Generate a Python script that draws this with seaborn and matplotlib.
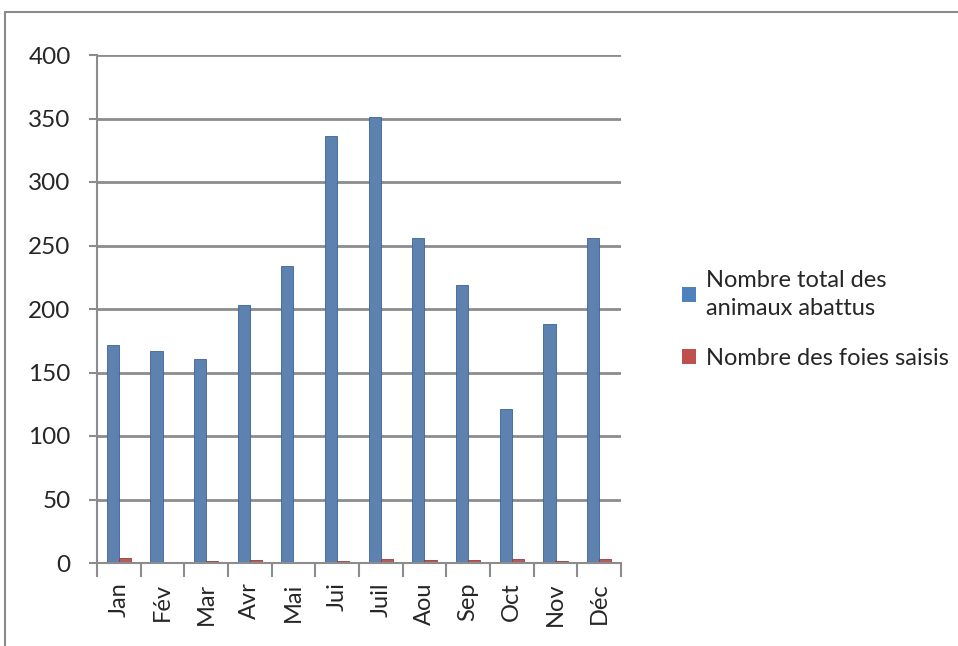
import matplotlib
matplotlib.use('Agg')
import matplotlib.pyplot as plt
import matplotlib.patches as mpatches
import numpy as np
import pandas as pd
import seaborn as sns

months = ['Jan', 'Fév', 'Mar', 'Avr', 'Mai', 'Jui', 'Juil', 'Aou', 'Sep', 'Oct', 'Nov', 'Déc']
abattus = [172, 167, 161, 203, 234, 336, 351, 256, 219, 121, 188, 256]
foies = [4, 1, 1.5, 2, 0.5, 1.5, 3, 2.5, 2.5, 3, 1.5, 3]
series = ['Nombre total des\nanimaux abattus', 'Nombre des foies saisis']
colors = ['#4F81BD', '#C0504D']

df = pd.DataFrame({
    'mois': months * 2,
    'valeur': abattus + foies,
    'serie': [series[0]] * len(months) + [series[1]] * len(months),
})

sns.set_style('white')
plt.rcParams['font.family'] = ['Lato', 'DejaVu Sans']

fig = plt.figure(figsize=(9.58, 6.46), dpi=100)
ax = fig.add_axes([97 / 958, 1 - 563 / 646, 524 / 958, 508 / 646])

sns.barplot(data=df, x='mois', y='valeur', hue='serie', palette=colors,
            width=0.55, dodge=True, ax=ax, legend=True,
            edgecolor='#3a6496', linewidth=0.6)
# red bars get their own edge colour
for p in ax.patches[len(months):2 * len(months)]:
    p.set_edgecolor('#9b3a37')

ax.set_xlim(-0.5, len(months) - 0.5)
ax.set_ylim(0, 400)
ax.set_yticks(np.arange(0, 401, 50))
ax.yaxis.grid(True, color='#8c8c8c', linewidth=2)
ax.set_axisbelow(True)
ax.set_xlabel('')
ax.set_ylabel('')

for side in ['top', 'right']:
    ax.spines[side].set_visible(False)
for side in ['left', 'bottom']:
    ax.spines[side].set_color('#8c8c8c')
    ax.spines[side].set_linewidth(1.5)

ax.tick_params(axis='y', labelsize=17.5, length=6, color='#8c8c8c', width=1.5, left=True, pad=13)
ax.tick_params(axis='x', labelsize=17, length=0, rotation=90, pad=14)
ax.set_xticks(np.arange(-0.5, len(months), 1), minor=True)
ax.tick_params(axis='x', which='minor', length=10, color='#8c8c8c', width=1.5, bottom=True)

handles = [mpatches.Patch(facecolor=c, edgecolor='none') for c in colors]
leg = ax.legend(handles, series, loc='center left', bbox_to_anchor=(1.075, 0.48),
                frameon=False, fontsize=17, handlelength=0.6, handleheight=0.6,
                handletextpad=0.45, labelspacing=1.2)
for t in leg.get_texts():
    t.set_linespacing(1.45)

# outer chart-area border (top and left visible)
fig.add_artist(mpatches.Rectangle((5 / 958, -0.1), 1.2, 1 - 12 / 646 + 0.1,
                                  transform=fig.transFigure, fill=False,
                                  edgecolor='#8a8a8a', linewidth=1.5))

fig.savefig('out.png', dpi=100)
